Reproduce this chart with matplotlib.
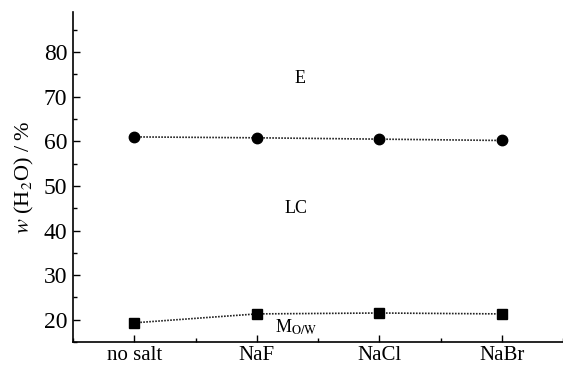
import matplotlib
matplotlib.use("Agg")
import matplotlib.pyplot as plt
from matplotlib.ticker import MultipleLocator

plt.rcParams['font.family'] = ['Liberation Serif', 'DejaVu Serif']
plt.rcParams['mathtext.fontset'] = 'stix'

categories = ["no salt", "NaF", "NaCl", "NaBr"]
e_lc = [61.0, 60.8, 60.5, 60.2]
lc_mow = [19.3, 21.3, 21.5, 21.3]

fig = plt.figure(figsize=(5.63, 3.66), dpi=100)
ax = fig.add_axes([0.1297, 0.0656, 0.8703, 0.9014])
x = list(range(len(categories)))
ax.plot(x, e_lc, linestyle=(0, (1, 0.8)), color='#222222', lw=1.2,
        marker='o', markersize=7.5, markerfacecolor='black', markeredgecolor='black')
ax.plot(x, lc_mow, linestyle=(0, (1, 0.8)), color='#222222', lw=1.2,
        marker='s', markersize=6.5, markerfacecolor='black', markeredgecolor='black')

ax.set_xlim(-0.5, 3.5)
ax.set_ylim(15, 89)
ax.set_xticks(x)
ax.set_xticklabels(categories)
ax.xaxis.set_minor_locator(MultipleLocator(1, offset=0.5))
ax.set_yticks([20, 30, 40, 50, 60, 70, 80])
ax.yaxis.set_minor_locator(MultipleLocator(5))
ax.tick_params(axis='both', which='both', direction='in', width=1)
ax.tick_params(axis='both', which='major', length=5)
ax.tick_params(axis='y', which='major', labelsize=17, pad=4)
ax.tick_params(axis='x', which='major', labelsize=15, pad=3)
ax.tick_params(axis='both', which='minor', length=3)
for s in ['top', 'right']:
    ax.spines[s].set_visible(False)
for s in ['left', 'bottom']:
    ax.spines[s].set_linewidth(1.2)

ax.set_ylabel(r'$w$ (H$_2$O) / %', fontsize=16, labelpad=6)

ax.text(1.35, 74.2, 'E', fontsize=13, ha='center', va='center')
ax.text(1.32, 44.9, 'LC', fontsize=13, ha='center', va='center')
ax.text(1.32, 18.2, r'M$_{\mathrm{O/W}}$', fontsize=13, ha='center', va='center')

fig.savefig('out.png', dpi=100)
